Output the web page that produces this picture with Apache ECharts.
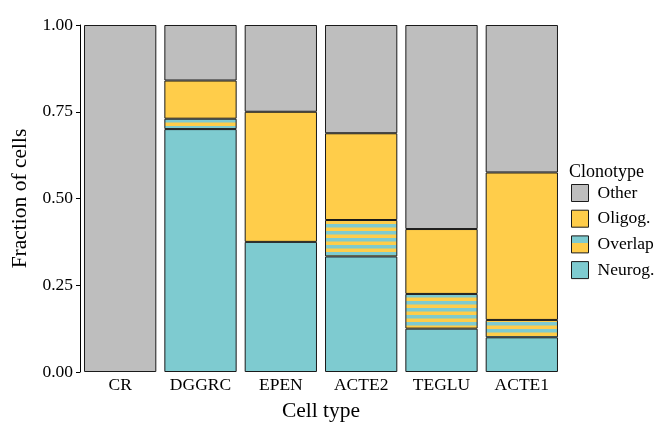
<!DOCTYPE html>
<html><head><meta charset="utf-8">
<script src="https://cdn.jsdelivr.net/npm/echarts@6/dist/echarts.min.js"></script>
<style>html,body{margin:0;padding:0;background:#fff}#c{width:658px;height:427px}</style>
</head><body><div id="c"></div>
<script>
const categories = ['CR','DGGRC','EPEN','ACTE2','TEGLU','ACTE1'];
const neurog  = [null, 0.700, 0.375, 0.333, 0.125, 0.100];
const overlap = [null, 0.030, null, 0.105, 0.100, 0.050];
const oligog  = [null, 0.110, 0.375, 0.250, 0.187, 0.425];
const other   = [1.000, 0.160, 0.250, 0.312, 0.588, 0.425];
const yTicks = ['0.00','0.25','0.50','0.75','1.00'];
const legendNames = ['Other','Oligog.','Overlap','Neurog.'];

const TEAL = '#7ECBD0', GOLD = '#FFCD4A', GRAY = '#BEBEBE';
const pc = document.createElement('canvas');
pc.width = 8; pc.height = 7;
const g = pc.getContext('2d');
g.fillStyle = GOLD; g.fillRect(0,0,8,7);
g.fillStyle = TEAL; g.fillRect(0,0,8,3.5);
const stripe = {image: pc, repeat: 'repeat'};
const legendStripe = {type:'linear', x:0, y:0, x2:0, y2:1, colorStops:[
  {offset:0, color:TEAL},{offset:0.45, color:TEAL},{offset:0.45, color:GOLD},{offset:1, color:GOLD}]};

const font = 'Liberation Serif';
function mk(name, data, color){
  return {type:'bar', stack:'s', barCategoryGap:'10%', name, data,
    itemStyle:{color, borderColor:'#1a1a1a', borderWidth:1}};
}
const chart = echarts.init(document.getElementById('c'));
chart.setOption({
  animation:false,
  textStyle:{fontFamily:font},
  grid:{left:80, right:96, top:25, bottom:55, outerBoundsMode:'none', containLabel:false},
  title:{text:'Clonotype', left:564, top:158, textStyle:{fontFamily:font, fontSize:18, fontWeight:'normal', color:'#000'}},
  legend:{orient:'vertical', left:566, top:179, itemWidth:17, itemHeight:17, itemGap:7.7,
    icon:'rect',
    data:legendNames.map(n => n === 'Overlap' ? {name:n, itemStyle:{color:legendStripe}} : n),
    itemStyle:{borderColor:'#1a1a1a', borderWidth:1},
    textStyle:{fontFamily:font, fontSize:17.5, color:'#000', padding:[0,0,0,4]}},
  xAxis:{type:'category', data:categories, name:'Cell type', nameLocation:'middle', nameGap:28,
    nameTextStyle:{fontFamily:font, fontSize:21.5, color:'#000'},
    axisLine:{show:false}, axisTick:{show:false},
    axisLabel:{fontFamily:font, fontSize:17.5, color:'#000', margin:4}},
  yAxis:{type:'value', min:0, max:1, interval:0.25, name:'Fraction of cells', nameLocation:'middle', nameGap:47,
    nameTextStyle:{fontFamily:font, fontSize:21.5, color:'#000'},
    splitLine:{show:false},
    axisLine:{show:true, lineStyle:{color:'#000', width:1}},
    axisTick:{show:true, length:4, lineStyle:{color:'#000'}},
    axisLabel:{fontFamily:font, fontSize:17.5, color:'#000', margin:7,
      formatter:(v)=>yTicks[Math.round(v/0.25)]}},
  series:[
    mk('Neurog.', neurog, TEAL),
    mk('Overlap', overlap, stripe),
    mk('Oligog.', oligog, GOLD),
    mk('Other', other, GRAY)
  ]
});
</script></body></html>
